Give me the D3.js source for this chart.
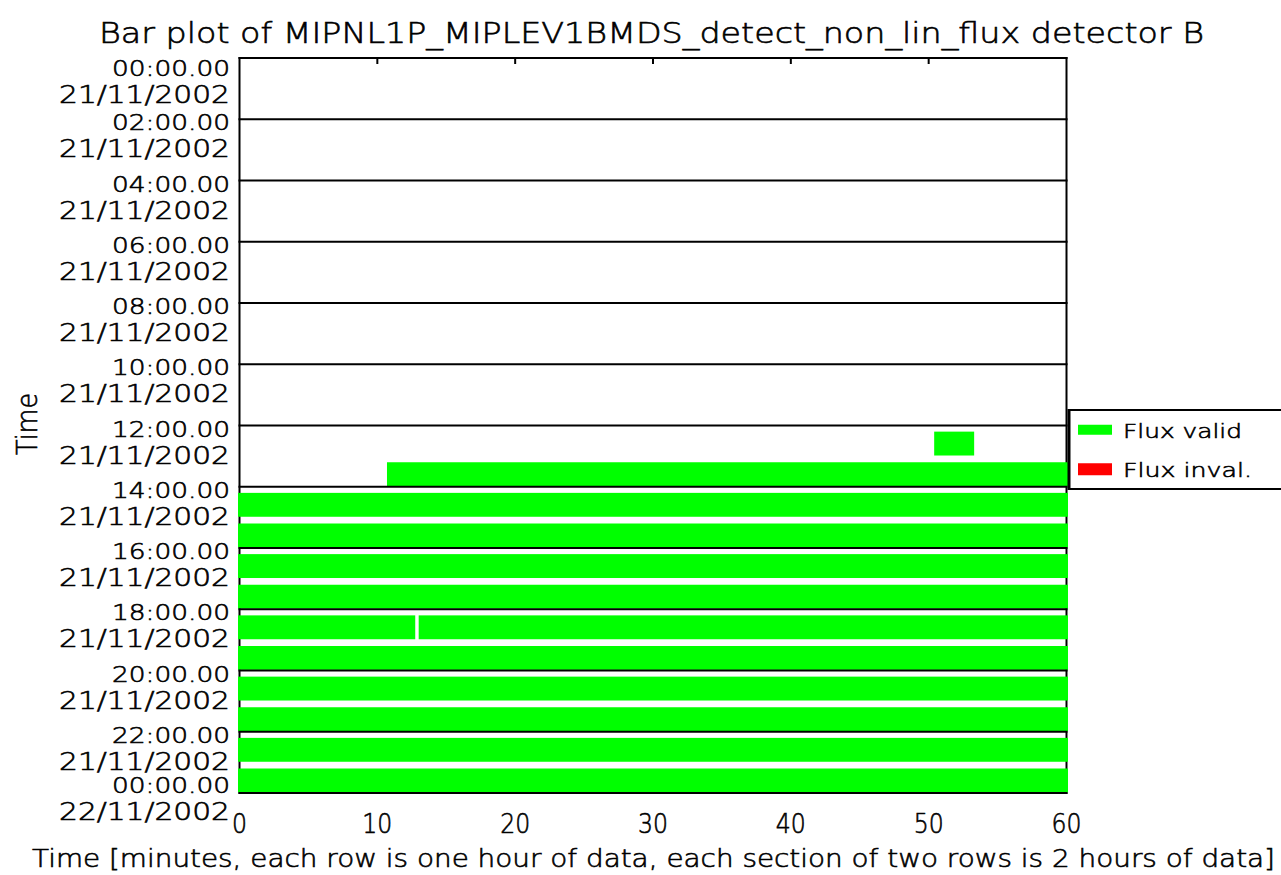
<!DOCTYPE html>
<html>
<head>
<meta charset="utf-8">
<script src="https://cdn.jsdelivr.net/npm/d3@7"></script>
<style>
  html, body { margin: 0; padding: 0; background: #fff; }
  svg { display: block; }
  text { font-family: "DejaVu Sans", sans-serif; font-weight: 300; fill: #000; stroke: #000; stroke-width: 0.6px; }
</style>
</head>
<body>
<script>
// ---------- data ----------
const titleText = "Bar plot of MIPNL1P_MIPLEV1BMDS_detect_non_lin_flux detector B";
const xTitle = "Time [minutes, each row is one hour of data, each section of two rows is 2 hours of data]";
const yTitle = "Time";

const yTickHours = [0, 2, 4, 6, 8, 10, 12, 14, 16, 18, 20, 22, 24];
const yTickTimes = ["00:00.00", "02:00.00", "04:00.00", "06:00.00", "08:00.00", "10:00.00",
                    "12:00.00", "14:00.00", "16:00.00", "18:00.00", "20:00.00", "22:00.00", "00:00.00"];
const yTickDates = ["21/11/2002", "21/11/2002", "21/11/2002", "21/11/2002", "21/11/2002", "21/11/2002",
                    "21/11/2002", "21/11/2002", "21/11/2002", "21/11/2002", "21/11/2002", "21/11/2002", "22/11/2002"];
const xTicks = [0, 10, 20, 30, 40, 50, 60];

// each segment: hour row, start minute, end minute, status
const segHour   = [12,   13,   14, 15, 16, 17, 18,    18,   19, 20, 21, 22, 23];
const segStart  = [50.4, 10.7, 0,  0,  0,  0,  0,     13.0, 0,  0,  0,  0,  0];
const segEnd    = [53.3, 60,   60, 60, 60, 60, 12.75, 60,   60, 60, 60, 60, 60];
const segStatus = ["valid","valid","valid","valid","valid","valid","valid","valid","valid","valid","valid","valid","valid"];

const legendLabels = ["Flux valid", "Flux inval."];
const legendKeys = ["valid", "invalid"];

// ---------- drawing ----------
const W = 1281, H = 875;
const color = d3.scaleOrdinal().domain(["valid", "invalid"]).range(["#00ff00", "#ff0000"]);

const svg = d3.select("body").append("svg").attr("width", W).attr("height", H);
svg.append("rect").attr("width", W).attr("height", H).attr("fill", "#fff");

const x = d3.scaleLinear().domain([0, 60]).range([239.5, 1066.5]);
const y = d3.scaleLinear().domain([0, 24]).range([58, 793]);
const rowH = y(1) - y(0);

// frame
svg.append("rect")
  .attr("x", x(0)).attr("y", y(0))
  .attr("width", x(60) - x(0)).attr("height", y(24) - y(0))
  .attr("fill", "none").attr("stroke", "#000").attr("stroke-width", 2);

// x ticks (top and bottom, inward)
const inner = xTicks.filter(d => d > 0 && d < 60);
svg.selectAll("line.ttick").data(inner).join("line")
  .attr("x1", d => x(d)).attr("x2", d => x(d))
  .attr("y1", y(0)).attr("y2", y(0) + 6)
  .attr("stroke", "#000").attr("stroke-width", 2);
svg.selectAll("line.btick").data(inner).join("line")
  .attr("x1", d => x(d)).attr("x2", d => x(d))
  .attr("y1", y(24)).attr("y2", y(24) - 6)
  .attr("stroke", "#000").attr("stroke-width", 2);

// bars
const segs = segHour.map((h, i) => ({ h, s: segStart[i], e: segEnd[i], st: segStatus[i] }));
svg.selectAll("rect.bar").data(segs).join("rect")
  .attr("class", "bar")
  .attr("x", d => x(d.s) - (d.s === 0 ? 1.5 : 0))
  .attr("width", d => x(d.e) - x(d.s) + (d.s === 0 ? 1.5 : 0) + (d.e === 60 ? 1.5 : 0))
  .attr("y", d => y(d.h) + rowH * 0.2)
  .attr("height", rowH * 0.78)
  .attr("fill", d => color(d.st));

// section lines (every 2 hours)
svg.selectAll("line.sec").data(yTickHours).join("line")
  .attr("x1", x(0) - 1).attr("x2", x(60) + 1)
  .attr("y1", d => y(d)).attr("y2", d => y(d))
  .attr("stroke", "#000").attr("stroke-width", 2);

// y tick labels (two lines)
const shift = i => (i === 0 ? 7 : (i === yTickHours.length - 1 ? -11.5 : 0));
svg.selectAll("text.ytime").data(yTickHours).join("text")
  .attr("x", 230).attr("y", (d, i) => y(d) + 11 + shift(i))
  .attr("text-anchor", "end").attr("font-size", 21)
  .attr("textLength", 118).attr("lengthAdjust", "spacingAndGlyphs")
  .text((d, i) => yTickTimes[i]);
svg.selectAll("text.ydate").data(yTickHours).join("text")
  .attr("x", 230).attr("y", (d, i) => y(d) + 38 + shift(i))
  .attr("text-anchor", "end").attr("font-size", 24)
  .attr("textLength", 171).attr("lengthAdjust", "spacingAndGlyphs")
  .text((d, i) => yTickDates[i]);

// x tick labels
svg.selectAll("text.xlab").data(xTicks).join("text")
  .attr("x", d => x(d)).attr("y", 833)
  .attr("text-anchor", "middle").attr("font-size", 26)
  .attr("textLength", d => String(d).length * 15).attr("lengthAdjust", "spacingAndGlyphs")
  .text(d => String(d));

// titles
svg.append("text")
  .attr("x", 99).attr("y", 42.5).attr("font-size", 29)
  .attr("textLength", 1105).attr("lengthAdjust", "spacingAndGlyphs")
  .text(titleText);

svg.append("text")
  .attr("x", 32).attr("y", 866.5).attr("font-size", 25)
  .attr("textLength", 1243).attr("lengthAdjust", "spacingAndGlyphs")
  .text(xTitle);

svg.append("text")
  .attr("transform", "translate(37,424) rotate(-90)")
  .attr("text-anchor", "middle").attr("font-size", 29)
  .attr("textLength", 62).attr("lengthAdjust", "spacingAndGlyphs")
  .text(yTitle);

// legend
const lg = svg.append("g");
lg.append("rect")
  .attr("x", 1069).attr("y", 410).attr("width", 260).attr("height", 79)
  .attr("fill", "#fff").attr("stroke", "#000").attr("stroke-width", 2);
lg.append("line")
  .attr("x1", 1069).attr("x2", 1069).attr("y1", 409).attr("y2", 490)
  .attr("stroke", "#000").attr("stroke-width", 3);
const ly = d3.scaleBand().domain(legendKeys).range([410, 489]);
lg.selectAll("rect.sw").data(legendKeys).join("rect")
  .attr("x", 1078).attr("width", 34)
  .attr("y", d => ly(d) + ly.bandwidth() / 2 - 5 - (d === "valid" ? 0 : 1))
  .attr("height", d => d === "valid" ? 10 : 12)
  .attr("fill", d => color(d));
lg.selectAll("text.lt").data(legendKeys).join("text")
  .attr("x", 1123)
  .attr("y", d => ly(d) + ly.bandwidth() / 2 + 8)
  .attr("font-size", 20)
  .attr("textLength", (d, i) => i === 0 ? 119 : 129).attr("lengthAdjust", "spacingAndGlyphs")
  .text((d, i) => legendLabels[i]);
</script>
</body>
</html>
